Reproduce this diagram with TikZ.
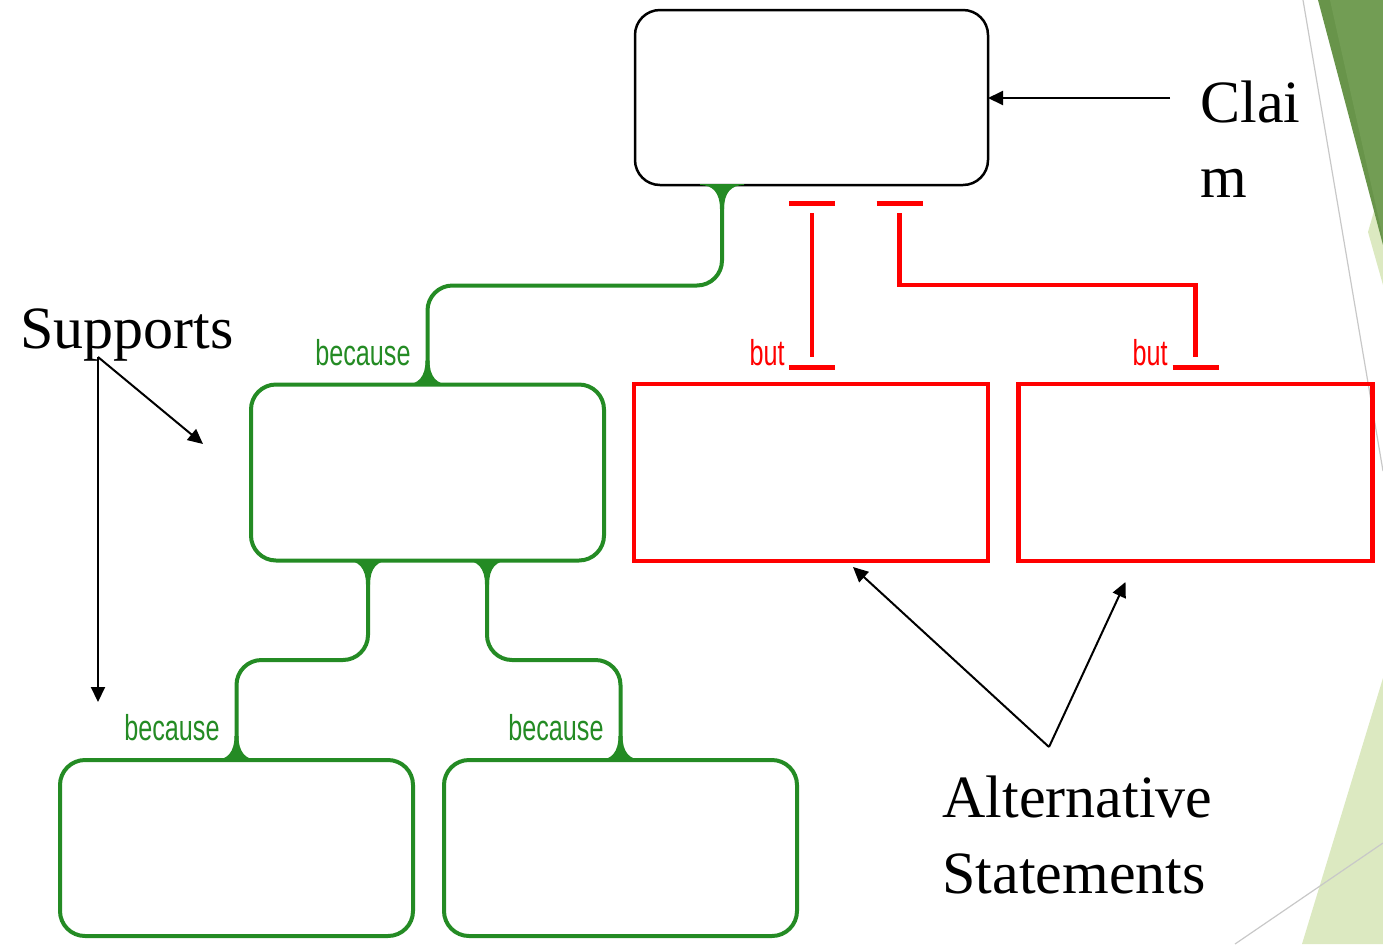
\documentclass[tikz,border=0pt]{standalone}
\usepackage{fontspec}
\setmainfont{Liberation Serif}
\newfontfamily\narrowsans[FakeStretch=0.7]{Liberation Sans}
\usetikzlibrary{arrows.meta,calc}
\definecolor{supgreen}{RGB}{36,139,36}
\definecolor{altred}{RGB}{255,0,0}
\definecolor{facetdark}{RGB}{104,148,74}
\definecolor{facetmid}{RGB}{114,157,84}
\definecolor{facetlight}{RGB}{220,233,193}
\definecolor{facetgrey}{RGB}{200,200,200}

\begin{document}
\begin{tikzpicture}[x=0.5pt,y=-0.5pt,
  claimbox/.style={draw=black,line width=1.25pt,rounded corners=12.5pt,
    minimum width=176.5pt,minimum height=87.5pt,outer sep=0pt,inner sep=0pt},
  supbox/.style={draw=supgreen,line width=2pt,rounded corners=12.5pt,
    minimum width=176.5pt,minimum height=88pt,outer sep=0pt,inner sep=0pt},
  altbox/.style={draw=altred,line width=2.3pt,
    minimum width=177pt,minimum height=88.5pt,outer sep=0pt,inner sep=0pt},
  gconn/.style={draw=supgreen,line width=2pt,rounded corners=12.5pt},
  rline/.style={draw=altred,line width=2.3pt},
  rbar/.style={draw=altred,line width=2.5pt},
  pointer/.style={draw=black,line width=1pt,-{Triangle[length=7.5pt,width=7pt]}},
  heading/.style={font=\fontsize{30}{37.5}\selectfont,inner sep=0pt,anchor=base west},
  because/.style={text=supgreen,font=\narrowsans\fontsize{18}{20}\selectfont,
    inner sep=0pt,anchor=base east},
  butlbl/.style={text=altred,font=\narrowsans\fontsize{18}{20}\selectfont,
    inner sep=0pt,anchor=base east},
  flare/.pic={\fill[supgreen] (-22,-1) -- (-22,0) .. controls (-9,0) and (-2,8) .. (-2,24)
    -- (2,24) .. controls (2,8) and (9,0) .. (22,0) -- (22,-1) -- cycle;}
]
\useasboundingbox (0,0) rectangle (1383,944);

% theme decoration at the right edge
\fill[facetlight] (1383,678) -- (1302,944) -- (1383,944) -- cycle;
\draw[facetgrey,line width=0.6pt] (1235,944) -- (1383,843);
\fill[facetlight] (1383,180) -- (1383,285) -- (1368,232) -- cycle;
\fill[facetdark] (1318,0) -- (1383,0) -- (1383,245) -- cycle;
\fill[facetmid] (1330,0) -- (1383,0) -- (1383,238) -- cycle;
\draw[facetgrey,line width=0.6pt] (1303,0) -- (1383,471);

% boxes
\node[claimbox] (claim) at (811.5,97.5) {};
\node[supbox] (s1) at (427.5,472.5) {};
\node[supbox] (s2) at (236.5,848) {};
\node[supbox] (s3) at (620.5,848) {};
\node[altbox] (r1) at (811,472.5) {};
\node[altbox] (r2) at (1195.5,472.5) {};

% supporting connectors
\draw[gconn] ($(claim.south)+(-89.5,0)$) |- ($(s1.north)+(0,-99)$) -- (s1.north);
\pic at ($(claim.south)+(-89.5,0)$) {flare};
\pic[yscale=-1] at (s1.north) {flare};

\draw[gconn] ($(s1.south)+(-59.5,0)$) |- ($(s2.north)+(0,-100)$) -- (s2.north);
\pic at ($(s1.south)+(-59.5,0)$) {flare};
\pic[yscale=-1] at (s2.north) {flare};

\draw[gconn] ($(s1.south)+(59.5,0)$) |- ($(s3.north)+(0,-100)$) -- (s3.north);
\pic at ($(s1.south)+(59.5,0)$) {flare};
\pic[yscale=-1] at (s3.north) {flare};

\node[because] (bc1) at ($(s1.north)+(-16.5,-19)$) {because};
\node[because] (bc2) at ($(s2.north)+(-16.5,-20)$) {because};
\node[because] (bc3) at ($(s3.north)+(-16.5,-20)$) {because};

% rebuttal connectors
\coordinate (rt1) at ($(claim.south)+(0.5,18)$);
\coordinate (rb1) at ($(r1.north)+(1,-17)$);
\draw[rbar] ($(rt1)+(-23,0)$) -- ($(rt1)+(23,0)$);
\draw[rline] ($(rt1)+(0,10)$) -- ($(rb1)+(0,-10)$);
\draw[rbar] ($(rb1)+(-23,0)$) -- ($(rb1)+(23,0)$);

\coordinate (rt2) at ($(claim.south)+(88,18)$);
\coordinate (rb2) at ($(r2.north)+(0,-17)$);
\draw[rbar] ($(rt2)+(-23,0)$) -- ($(rt2)+(23,0)$);
\draw[rline] ($(rt2)+(0,10)$) |- ($(r2.north)+(0,-99)$) -- ($(rb2)+(0,-10)$);
\draw[rbar] ($(rb2)+(-23,0)$) -- ($(rb2)+(23,0)$);

\node[butlbl] (but1) at ($(r1.north)+(-26,-19)$) {but};
\node[butlbl] (but2) at ($(r2.north)+(-27.5,-19)$) {but};

% annotations
\node[heading] (clai) at (1200,122) {Clai};
\node[heading] (claim2) at (1200,197) {m};
\node[heading] (supports) at (20,348) {Supports};
\node[heading] (alt) at (942,817) {Alternative};
\node[heading] (stat) at (942,893) {Statements};

\coordinate (claimsrc) at (1170,98);
\draw[pointer] (claimsrc) -- (claimsrc -| claim.east);

\coordinate (supsrc) at (98,357);
\coordinate (supdown) at ($(s2.north west)+(38,-58)$);
\coordinate (supdiag) at ($(s1.west)+(-48,-28.5)$);
\draw[pointer] (supsrc) -- (supdown);
\draw[pointer] (supsrc) -- (supdiag);

\coordinate (altsrc) at (1049,747);
\coordinate (alt1) at ($(r1.south west)+(219,6)$);
\coordinate (alt2) at ($(r2.south west)+(107,21)$);
\draw[pointer] (altsrc) -- (alt1);
\draw[pointer] (altsrc) -- (alt2);
\end{tikzpicture}
\end{document}
